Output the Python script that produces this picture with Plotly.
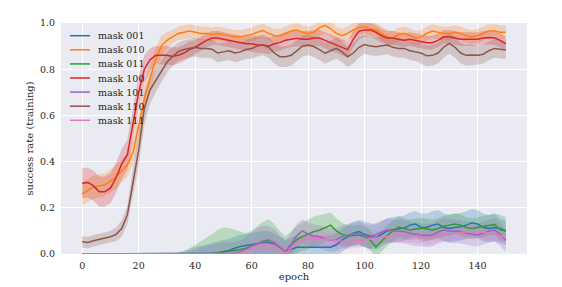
import plotly.graph_objects as go

# ---------------- data ----------------
epochs = list(range(0, 151, 2))
names = ["mask 001", "mask 010", "mask 011", "mask 100", "mask 101", "mask 110", "mask 111"]
colors = ["#1f77b4", "#ff7f0e", "#2ca02c", "#d62728", "#9467bd", "#8c564b", "#e377c2"]
x_ticks = [0, 20, 40, 60, 80, 100, 120, 140]
y_ticks = [0.0, 0.2, 0.4, 0.6, 0.8, 1.0]

mean_001 = [0]*10 + [0]*10 + \
    [0, 0, 0, 0.003, 0.005, 0.01, 0.015, 0.025, 0.033, 0.037] + \
    [0.04, 0.045, 0.05, 0.05, 0.04, 0.025, 0.01, 0.02, 0.029, 0.029] + \
    [0.029, 0.029, 0.029, 0.029, 0.029, 0.04, 0.06, 0.075, 0.09, 0.097] + \
    [0.085, 0.078, 0.072, 0.085, 0.10, 0.105, 0.11, 0.112, 0.125, 0.13] + \
    [0.115, 0.115, 0.125, 0.13, 0.115, 0.11, 0.115, 0.118, 0.125, 0.135] + \
    [0.13, 0.115, 0.11, 0.115, 0.11, 0.10]
std_001 = [0]*10 + [0, 0, 0, 0, 0, 0, 0, 0.005, 0.01, 0.02] + \
    [0.03, 0.035, 0.04, 0.045, 0.05, 0.05, 0.05, 0.05, 0.05, 0.05] + \
    [0.05]*10 + [0.05]*10 + [0.055]*10 + [0.06]*10 + [0.06]*6

mean_010 = [0.26, 0.275, 0.29, 0.295, 0.30, 0.315, 0.335, 0.36, 0.385, 0.44] + \
    [0.55, 0.67, 0.76, 0.84, 0.90, 0.925, 0.94, 0.955, 0.96, 0.965] + \
    [0.96, 0.955, 0.955, 0.95, 0.955, 0.95, 0.945, 0.94, 0.94, 0.945] + \
    [0.95, 0.96, 0.967, 0.955, 0.945, 0.945, 0.955, 0.965, 0.97, 0.96] + \
    [0.955, 0.96, 0.98, 0.99, 0.975, 0.955, 0.945, 0.955, 0.97, 0.98] + \
    [0.985, 0.975, 0.97, 0.955, 0.94, 0.935, 0.95, 0.955, 0.945, 0.935] + \
    [0.94, 0.955, 0.965, 0.96, 0.955, 0.955, 0.96, 0.955, 0.945, 0.94] + \
    [0.945, 0.955, 0.965, 0.965, 0.96, 0.96]
std_010 = [0.05]*10 + \
    [0.06, 0.06, 0.055, 0.05, 0.045, 0.035, 0.03, 0.03, 0.03, 0.03] + \
    [0.03]*10 + [0.03]*10 + \
    [0.03, 0.03, 0.035, 0.035, 0.035, 0.03, 0.03, 0.03, 0.03, 0.03] + \
    [0.03]*10 + [0.03]*10 + [0.03]*6

mean_011 = [0]*10 + [0]*10 + \
    [0, 0, 0, 0, 0.005, 0.01, 0.012, 0.015, 0.02, 0.025] + \
    [0.035, 0.045, 0.055, 0.06, 0.045, 0.025, 0.012, 0.04, 0.062, 0.075] + \
    [0.085, 0.097, 0.103, 0.115, 0.125, 0.10, 0.085, 0.078, 0.08, 0.082] + \
    [0.075, 0.06, 0.03, 0.055, 0.08, 0.10, 0.117, 0.11, 0.104, 0.108] + \
    [0.111, 0.108, 0.104, 0.11, 0.12, 0.125, 0.13, 0.125, 0.115, 0.11] + \
    [0.115, 0.118, 0.125, 0.128, 0.105, 0.10]
std_011 = [0]*10 + [0, 0, 0, 0, 0, 0, 0, 0.005, 0.015, 0.025] + \
    [0.04, 0.055, 0.07, 0.085, 0.10, 0.105, 0.10, 0.09, 0.075, 0.065] + \
    [0.065, 0.075, 0.085, 0.09, 0.085, 0.075, 0.065, 0.06, 0.06, 0.06] + \
    [0.065, 0.065, 0.065, 0.06, 0.055, 0.055, 0.05, 0.045, 0.045, 0.045] + \
    [0.045]*10 + [0.045]*10 + [0.045]*6

mean_100 = [0.306, 0.31, 0.295, 0.27, 0.27, 0.285, 0.33, 0.39, 0.43, 0.56] + \
    [0.70, 0.80, 0.84, 0.86, 0.86, 0.86, 0.855, 0.86, 0.87, 0.885] + \
    [0.895, 0.91, 0.925, 0.935, 0.935, 0.93, 0.925, 0.92, 0.915, 0.91] + \
    [0.91, 0.905, 0.905, 0.90, 0.91, 0.915, 0.925, 0.93, 0.934, 0.93] + \
    [0.93, 0.935, 0.935, 0.925, 0.915, 0.905, 0.895, 0.885, 0.93, 0.965] + \
    [0.97, 0.97, 0.96, 0.945, 0.935, 0.935, 0.93, 0.925, 0.93, 0.925] + \
    [0.92, 0.915, 0.915, 0.925, 0.94, 0.94, 0.935, 0.93, 0.93, 0.93] + \
    [0.93, 0.935, 0.937, 0.935, 0.925, 0.91]
std_100 = [0.065]*9 + [0.07] + \
    [0.07, 0.06, 0.05, 0.04, 0.04, 0.04, 0.04, 0.035, 0.035, 0.035] + \
    [0.03]*10 + [0.035]*10 + [0.035]*10 + [0.03]*10 + [0.03]*10 + [0.03]*6

mean_101 = [0]*10 + [0]*10 + \
    [0, 0, 0, 0, 0, 0, 0, 0.003, 0.01, 0.02] + \
    [0.035, 0.045, 0.053, 0.055, 0.05, 0.03, 0.01, 0.04, 0.08, 0.10] + \
    [0.085, 0.078, 0.075, 0.065, 0.06, 0.062, 0.075, 0.082, 0.086, 0.09] + \
    [0.08, 0.072, 0.085, 0.095, 0.104, 0.10, 0.097, 0.097, 0.09, 0.085] + \
    [0.082, 0.08, 0.082, 0.095, 0.104, 0.10, 0.097, 0.097, 0.09, 0.085] + \
    [0.082, 0.09, 0.10, 0.104, 0.085, 0.058]
std_101 = [0]*10 + [0]*9 + [0.01] + \
    [0.02, 0.03, 0.035, 0.04, 0.045, 0.05, 0.05, 0.05, 0.05, 0.055] + \
    [0.06, 0.07, 0.07, 0.065, 0.06, 0.05, 0.05, 0.05, 0.05, 0.05] + \
    [0.05]*10 + [0.05]*10 + [0.05]*10 + [0.05]*6

mean_110 = [0.053, 0.05, 0.057, 0.063, 0.07, 0.075, 0.085, 0.11, 0.17, 0.31] + \
    [0.45, 0.63, 0.71, 0.75, 0.79, 0.83, 0.855, 0.876, 0.885, 0.89] + \
    [0.895, 0.89, 0.89, 0.886, 0.87, 0.875, 0.88, 0.87, 0.875, 0.885] + \
    [0.89, 0.90, 0.905, 0.895, 0.87, 0.854, 0.854, 0.86, 0.88, 0.90] + \
    [0.905, 0.898, 0.885, 0.869, 0.88, 0.89, 0.875, 0.854, 0.87, 0.895] + \
    [0.907, 0.90, 0.897, 0.90, 0.905, 0.895, 0.89, 0.89, 0.88, 0.875] + \
    [0.87, 0.858, 0.86, 0.87, 0.895, 0.912, 0.895, 0.87, 0.86, 0.862] + \
    [0.86, 0.865, 0.88, 0.89, 0.885, 0.883]
std_110 = [0.025, 0.025, 0.025, 0.025, 0.025, 0.025, 0.03, 0.035, 0.04, 0.06] + \
    [0.07, 0.07, 0.06, 0.05, 0.045, 0.045, 0.04, 0.04, 0.04, 0.04] + \
    [0.04]*10 + [0.045]*10 + [0.045]*10 + [0.04]*10 + [0.045]*10 + [0.04]*6

mean_111 = [0]*10 + [0]*10 + \
    [0, 0, 0, 0, 0, 0, 0, 0, 0.005, 0.015] + \
    [0.025, 0.035, 0.04, 0.042, 0.038, 0.02, 0.003, 0.025, 0.05, 0.062] + \
    [0.066, 0.068, 0.066, 0.064, 0.064, 0.06, 0.055, 0.053, 0.055, 0.058] + \
    [0.06, 0.065, 0.07, 0.072, 0.076, 0.08, 0.082, 0.08, 0.08, 0.078] + \
    [0.075, 0.068, 0.075, 0.082, 0.085, 0.088, 0.09, 0.092, 0.095, 0.097] + \
    [0.095, 0.092, 0.09, 0.088, 0.08, 0.068]
std_111 = [0]*10 + [0]*10 + \
    [0, 0, 0, 0, 0, 0.005, 0.01, 0.015, 0.02, 0.025] + \
    [0.03]*10 + [0.03]*10 + [0.03]*10 + [0.03]*10 + [0.03]*6

means = [mean_001, mean_010, mean_011, mean_100, mean_101, mean_110, mean_111]
stds = [std_001, std_010, std_011, std_100, std_101, std_110, std_111]

# ---------------- figure ----------------
FONT = "DejaVu Serif"
TXT = "#262626"


def rgba(hexc, a):
    h = hexc.lstrip("#")
    return "rgba(%d,%d,%d,%g)" % (int(h[0:2], 16), int(h[2:4], 16), int(h[4:6], 16), a)


fig = go.Figure()

# error bands (drawn beneath all lines, like matplotlib zorder)
for name, col, m, s in zip(names, colors, means, stds):
    upper = [a + b for a, b in zip(m, s)]
    lower = [a - b for a, b in zip(m, s)]
    fig.add_trace(go.Scatter(
        x=epochs + epochs[::-1], y=upper + lower[::-1],
        fill="toself", fillcolor=rgba(col, 0.25), line=dict(width=0),
        mode="lines", hoverinfo="skip", showlegend=False))

for name, col, m in zip(names, colors, means):
    fig.add_trace(go.Scatter(x=epochs, y=m, mode="lines", name=name,
                             line=dict(color=col, width=1.5), showlegend=False))

# page body has an 8px margin: window coordinates -> figure coordinates
OFF = 8
W, H = 562, 287
plot_l, plot_r, plot_t, plot_b = 61 - OFF, 527 - OFF, 23 - OFF, 254 - OFF
pw, ph = plot_r - plot_l, plot_b - plot_t

# legend drawn by hand (matplotlib-like compact spacing)
shapes = []
annotations = []
for i, (name, col) in enumerate(zip(names, colors)):
    ypx = 35.7 - OFF + 14.1 * i
    yp = (plot_b - ypx) / ph
    shapes.append(dict(type="line", xref="paper", yref="paper",
                       x0=(70 - OFF - plot_l) / pw, x1=(90 - OFF - plot_l) / pw, y0=yp, y1=yp,
                       line=dict(color=col, width=1.5)))
    annotations.append(dict(xref="paper", yref="paper", x=(96 - OFF - plot_l) / pw, y=yp,
                            text=name, showarrow=False, xanchor="left", yanchor="middle",
                            font=dict(family=FONT, size=9.5, color=TXT)))

fig.update_layout(
    width=W, height=H,
    margin=dict(l=plot_l, r=W - plot_r, t=plot_t, b=H - plot_b),
    paper_bgcolor="white", plot_bgcolor="#EAEAF2",
    shapes=shapes, annotations=annotations,
    font=dict(family=FONT, size=10, color=TXT),
    xaxis=dict(range=[-7.5, 157.5], tickvals=x_ticks, ticks="", showgrid=True,
               gridcolor="white", gridwidth=1, zeroline=False, showline=False,
               tickfont=dict(family=FONT, size=9.5, color=TXT), ticklabelstandoff=4,
               title=dict(text="epoch", font=dict(family=FONT, size=10, color=TXT), standoff=3),
               automargin=False),
    yaxis=dict(range=[0, 1], tickvals=y_ticks, tickformat=".1f", ticks="", showgrid=True,
               gridcolor="white", gridwidth=1, zeroline=False, showline=False,
               tickfont=dict(family=FONT, size=9.5, color=TXT), ticklabelstandoff=5,
               title=dict(text="success rate (training)", font=dict(family=FONT, size=10, color=TXT),
                          standoff=4),
               automargin=False),
)

fig.write_html("out.html")
